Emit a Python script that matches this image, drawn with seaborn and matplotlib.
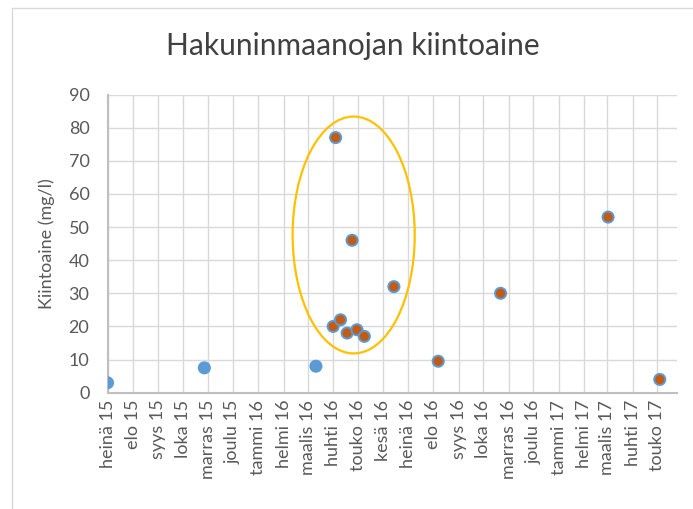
import matplotlib
matplotlib.use('Agg')
import matplotlib.pyplot as plt
import matplotlib.dates as mdates
from matplotlib.patches import Ellipse, Rectangle
import seaborn as sns
import pandas as pd

# Data
dates = ['2015-07-01', '2015-10-27', '2016-03-11', '2016-04-01', '2016-04-04',
         '2016-04-10', '2016-04-18', '2016-04-24', '2016-04-30', '2016-05-09',
         '2016-06-14', '2016-08-07', '2016-10-22', '2017-03-02', '2017-05-04']
values = [3, 7.5, 8, 20, 77, 22, 18, 46, 19, 17, 32, 9.5, 30, 53, 4]
groups = ['perus', 'perus', 'perus', 'tulva', 'tulva', 'tulva', 'tulva', 'tulva',
          'tulva', 'tulva', 'tulva', 'tulva', 'tulva', 'tulva', 'tulva']
tick_labels = ['heinä 15', 'elo 15', 'syys 15', 'loka 15', 'marras 15', 'joulu 15',
               'tammi 16', 'helmi 16', 'maalis 16', 'huhti 16', 'touko 16', 'kesä 16',
               'heinä 16', 'elo 16', 'syys 16', 'loka 16', 'marras 16', 'joulu 16',
               'tammi 17', 'helmi 17', 'maalis 17', 'huhti 17', 'touko 17']
y_ticks = [0, 10, 20, 30, 40, 50, 60, 70, 80, 90]

sns.set_theme(style='white')
plt.rcParams['font.family'] = ['Lato', 'DejaVu Sans']

fig = plt.figure(figsize=(6.93, 5.09), dpi=100)
fig.patches.append(Rectangle((12 / 693, -0.2), 1.2, 1.2 - 8 / 509,
                             transform=fig.transFigure, fill=False,
                             edgecolor='#D9D9D9', linewidth=1.0))
ax = fig.add_axes([107.5 / 693, 1 - 392.7 / 509, (677 - 107.5) / 693, (392.7 - 94.5) / 509])

df = pd.DataFrame({'date': pd.to_datetime(dates), 'value': values, 'group': groups})
sns.scatterplot(data=df, x='date', y='value', hue='group',
                palette={'perus': '#5B9BD5', 'tulva': '#C55A11'},
                edgecolor='#5B9BD5', linewidth=1.4, s=64, legend=False, ax=ax, zorder=3)

tick_dates = pd.date_range('2015-07-01', periods=len(tick_labels), freq='MS')
ax.set_xticks(tick_dates)
ax.set_xticklabels(tick_labels, rotation=90)
ax.set_xlim(pd.Timestamp('2015-07-01'), pd.Timestamp('2017-05-25'))
ax.set_ylim(0, 90)
ax.set_yticks(y_ticks)

ax.grid(True, color='#D9D9D9', linewidth=1.0)
ax.set_axisbelow(True)
for s in ['top', 'right']:
    ax.spines[s].set_visible(False)
for s in ['left', 'bottom']:
    ax.spines[s].set_color('#BFBFBF')
    ax.spines[s].set_linewidth(1.5)
ax.tick_params(axis='both', length=0, labelcolor='#595959', labelsize=13)
ax.tick_params(axis='y', pad=13)
ax.tick_params(axis='x', pad=5)

ax.set_xlabel('')
ax.set_ylabel('Kiintoaine (mg/l)', fontsize=13, color='#595959', labelpad=10)

# highlight ellipse
cx = mdates.date2num(pd.Timestamp('2016-04-26'))
ax.add_patch(Ellipse((cx, 47.6), 148.8, 71.5, fill=False, edgecolor='#FFC000',
                     linewidth=1.6, zorder=4, clip_on=False))

fig.text(353 / 693, 1 - 46 / 509, 'Hakuninmaanojan kiintoaine', ha='center', va='center',
         fontsize=21.5, fontweight='normal', color='#404040')

fig.savefig('out.png', dpi=100)
